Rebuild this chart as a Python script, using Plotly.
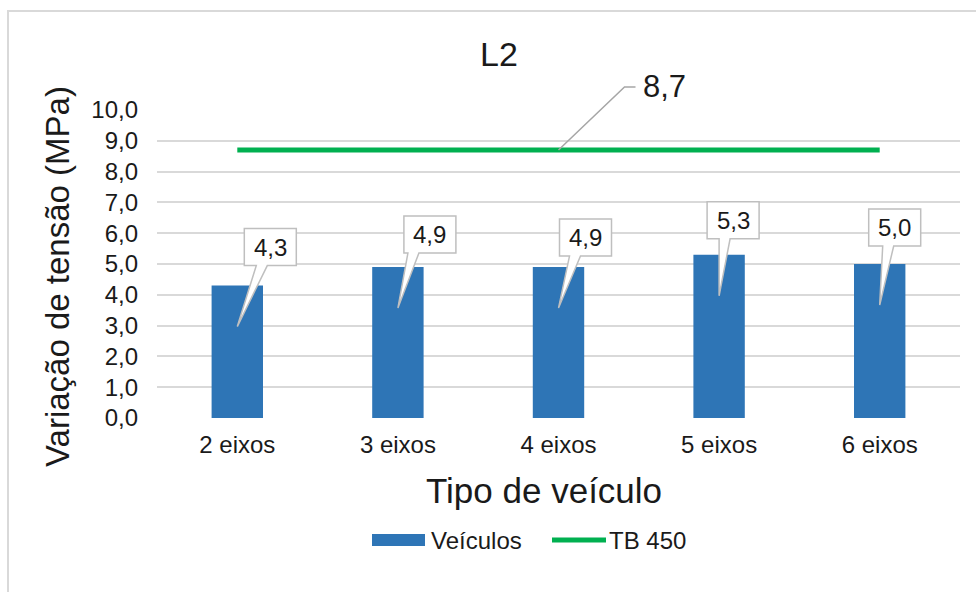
import plotly.graph_objects as go

# Data
categories = ["2 eixos", "3 eixos", "4 eixos", "5 eixos", "6 eixos"]
veiculos = [4.3, 4.9, 4.9, 5.3, 5.0]
tb450 = [8.7, 8.7, 8.7, 8.7, 8.7]
y_ticks = [0, 1, 2, 3, 4, 5, 6, 7, 8, 9, 10]
Y_MAX = 10

# Styling
FONT = "Liberation Sans, Arial, sans-serif"
TEXT = "#1a1a1a"
BLUE = "#2E75B6"
GREEN = "#00B050"
GRID = "#D9D9D9"
CALLOUT_EDGE = "#BFBFBF"

W, H = 976, 592
M_L, M_R, M_T, M_B = 157, 16, 110, 174
PW = W - M_L - M_R
PH = H - M_T - M_B


def px_x(p):
    return (p - M_L) / PW


def px_y(p):
    return (H - M_B - p) / PH


def fmt(v):
    return f"{v:.1f}".replace(".", ",")


# Callout placement (pixel offsets from each bar top)
box_left = [7, 6, 1, -12, -11]
box_bottom = [20, 14, 11, 16, 18]
wedge_left = [19, 10, 11, 0, 3]
BOX_W, BOX_H, WEDGE_W, TIP_DROP = 52, 37, 11, 41

fig = go.Figure()
fig.add_trace(go.Bar(
    x=categories, y=veiculos, name="Veículos",
    marker=dict(color=BLUE, line=dict(width=0)),
    showlegend=False,
))
fig.add_trace(go.Scatter(
    x=categories, y=tb450, name="TB 450", mode="lines",
    line=dict(color=GREEN, width=5),
    showlegend=False,
))

shapes = []
annotations = []

# Data-label callouts for the bars
for cat, v, L, B, wl in zip(categories, veiculos, box_left, box_bottom, wedge_left):
    path = (
        f"M{L},{B + BOX_H} L{L + BOX_W},{B + BOX_H} L{L + BOX_W},{B} "
        f"L{wl + WEDGE_W},{B} L0,{-TIP_DROP} L{wl},{B} L{L},{B} Z"
    )
    shapes.append(dict(
        type="path", xref="x", yref="y",
        xsizemode="pixel", ysizemode="pixel",
        xanchor=cat, yanchor=v, path=path,
        fillcolor="white", line=dict(color=CALLOUT_EDGE, width=1.5),
        layer="above",
    ))
    annotations.append(dict(
        x=cat, y=v, xref="x", yref="y",
        text=fmt(v), showarrow=False,
        xanchor="center", yanchor="middle",
        xshift=L + BOX_W / 2, yshift=B + BOX_H / 2,
        font=dict(family=FONT, size=24, color=TEXT),
    ))

# Leader line and label for the TB 450 line (anchored in paper space so
# the part above the plot area is not clipped)
lead_idx = 2
lead_val = tb450[lead_idx]
lead_px = (lead_idx + 0.5) / len(categories)
lead_py = lead_val / Y_MAX
shapes.append(dict(
    type="path", xref="paper", yref="paper",
    xsizemode="pixel", ysizemode="pixel",
    xanchor=lead_px, yanchor=lead_py,
    path="M0,0 L66,63 L77,63",
    line=dict(color="#A6A6A6", width=1.5),
    layer="above",
))
annotations.append(dict(
    x=lead_px, y=lead_py, xref="paper", yref="paper",
    text=fmt(lead_val), showarrow=False,
    xanchor="left", yanchor="middle", xshift=82, yshift=64,
    font=dict(family=FONT, size=31, color=TEXT),
))

# Chart border
shapes.append(dict(
    type="rect", xref="paper", yref="paper",
    x0=px_x(8), x1=px_x(W + 20), y0=px_y(H + 20), y1=px_y(11),
    line=dict(color=GRID, width=2), fillcolor="rgba(0,0,0,0)",
    layer="below",
))


def paper_text(x, y, text, size, xanchor="center", angle=0):
    return dict(
        x=px_x(x), y=px_y(y), xref="paper", yref="paper",
        text=text, showarrow=False, textangle=angle,
        xanchor=xanchor, yanchor="middle",
        font=dict(family=FONT, size=size, color=TEXT),
    )


# Titles
annotations.append(paper_text(499, 54, "L2", 34))
annotations.append(paper_text(544, 490, "Tipo de veículo", 35))
annotations.append(paper_text(57, 277, "Variação de tensão (MPa)", 33, angle=-90))

# Legend drawn as swatches
shapes.append(dict(
    type="rect", xref="paper", yref="paper",
    x0=px_x(372), x1=px_x(425), y0=px_y(546), y1=px_y(534),
    fillcolor=BLUE, line=dict(width=0),
))
annotations.append(paper_text(429, 540, "Veículos", 24, xanchor="left"))
shapes.append(dict(
    type="line", xref="paper", yref="paper",
    x0=px_x(552), x1=px_x(606), y0=px_y(540), y1=px_y(540),
    line=dict(color=GREEN, width=5),
))
annotations.append(paper_text(607, 540, "TB 450", 24, xanchor="left"))

fig.update_layout(
    width=W, height=H,
    margin=dict(l=M_L, r=M_R, t=M_T, b=M_B),
    paper_bgcolor="white", plot_bgcolor="white",
    separators=",.",
    bargap=0.68,
    showlegend=False,
    font=dict(family=FONT, color=TEXT),
    shapes=shapes,
    annotations=annotations,
)
fig.update_xaxes(
    type="category", showgrid=False, showline=False, zeroline=False,
    ticks="", ticklabelstandoff=10,
    tickfont=dict(family=FONT, size=24, color=TEXT),
)
fig.update_yaxes(
    range=[0, Y_MAX], tickvals=y_ticks, tickformat=".1f",
    showgrid=True, gridcolor=GRID, gridwidth=1.5,
    showline=False, zeroline=False, ticks="", ticklabelstandoff=18,
    tickfont=dict(family=FONT, size=24, color=TEXT),
)

fig.write_html("out.html")
